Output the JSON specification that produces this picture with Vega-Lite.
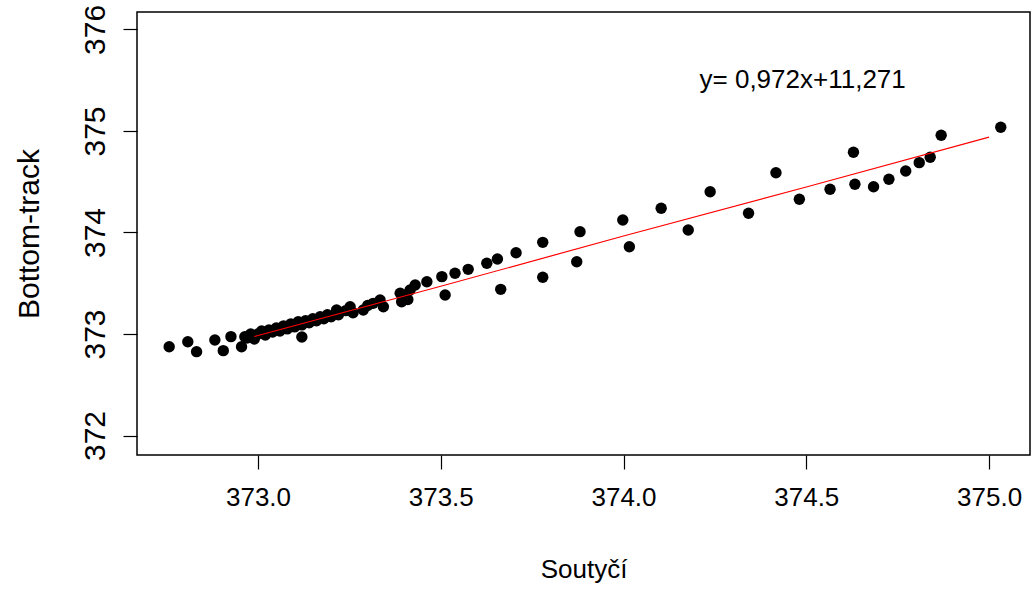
{
  "$schema": "https://vega.github.io/schema/vega-lite/v6.json",
  "width": 893,
  "height": 443,
  "autosize": {"type": "none"},
  "padding": {"left": 137, "top": 12, "right": 3, "bottom": 135},
  "background": "white",
  "config": {
    "view": {"stroke": "black", "strokeWidth": 1.5},
    "font": "Liberation Sans",
    "axis": {
      "domain": false,
      "grid": false,
      "tickColor": "black",
      "tickSize": 14,
      "tickWidth": 1.2,
      "labelColor": "black",
      "titleColor": "black",
      "labelFont": "Liberation Sans",
      "titleFont": "Liberation Sans",
      "titleFontWeight": "normal"
    }
  },
  "datasets": {
    "pts": [
      {"x": 372.757, "y": 372.875}, {"x": 372.808, "y": 372.924}, {"x": 372.832, "y": 372.826},
      {"x": 372.882, "y": 372.941}, {"x": 372.905, "y": 372.836}, {"x": 372.926, "y": 372.974},
      {"x": 372.955, "y": 372.875}, {"x": 372.964, "y": 372.973},
      {"x": 372.97, "y": 372.96}, {"x": 372.98, "y": 373.0}, {"x": 372.99, "y": 372.95},
      {"x": 373.0, "y": 373.0}, {"x": 373.01, "y": 373.03}, {"x": 373.02, "y": 372.99},
      {"x": 373.03, "y": 373.04}, {"x": 373.04, "y": 373.02}, {"x": 373.05, "y": 373.06},
      {"x": 373.06, "y": 373.03}, {"x": 373.07, "y": 373.08}, {"x": 373.08, "y": 373.05},
      {"x": 373.09, "y": 373.1}, {"x": 373.1, "y": 373.07}, {"x": 373.11, "y": 373.12},
      {"x": 373.12, "y": 373.09}, {"x": 373.12, "y": 372.97}, {"x": 373.13, "y": 373.13},
      {"x": 373.14, "y": 373.11}, {"x": 373.15, "y": 373.15}, {"x": 373.16, "y": 373.13},
      {"x": 373.17, "y": 373.17}, {"x": 373.18, "y": 373.15}, {"x": 373.19, "y": 373.19},
      {"x": 373.2, "y": 373.17}, {"x": 373.215, "y": 373.236}, {"x": 373.22, "y": 373.19},
      {"x": 373.24, "y": 373.23}, {"x": 373.252, "y": 373.269}, {"x": 373.26, "y": 373.21},
      {"x": 373.288, "y": 373.236}, {"x": 373.3, "y": 373.28}, {"x": 373.315, "y": 373.302},
      {"x": 373.334, "y": 373.335}, {"x": 373.343, "y": 373.269}, {"x": 373.389, "y": 373.401},
      {"x": 373.393, "y": 373.318}, {"x": 373.40, "y": 373.35}, {"x": 373.416, "y": 373.433},
      {"x": 373.41, "y": 373.34}, {"x": 373.43, "y": 373.483}, {"x": 373.462, "y": 373.515},
      {"x": 373.503, "y": 373.565}, {"x": 373.512, "y": 373.384}, {"x": 373.539, "y": 373.598},
      {"x": 373.575, "y": 373.637}, {"x": 373.626, "y": 373.697}, {"x": 373.655, "y": 373.739},
      {"x": 373.664, "y": 373.44}, {"x": 373.706, "y": 373.801}, {"x": 373.779, "y": 373.903},
      {"x": 373.779, "y": 373.559}, {"x": 373.872, "y": 373.712}, {"x": 373.881, "y": 374.008},
      {"x": 373.998, "y": 374.123}, {"x": 374.016, "y": 373.86}, {"x": 374.103, "y": 374.238},
      {"x": 374.177, "y": 374.025}, {"x": 374.237, "y": 374.402}, {"x": 374.342, "y": 374.189},
      {"x": 374.417, "y": 374.589}, {"x": 374.481, "y": 374.327}, {"x": 374.565, "y": 374.426},
      {"x": 374.629, "y": 374.79}, {"x": 374.633, "y": 374.475}, {"x": 374.684, "y": 374.451},
      {"x": 374.726, "y": 374.524}, {"x": 374.772, "y": 374.606}, {"x": 374.809, "y": 374.688},
      {"x": 374.839, "y": 374.741}, {"x": 374.869, "y": 374.958}, {"x": 375.032, "y": 375.036}
    ],
    "fit": [
      {"x": 372.99, "y": 372.975}, {"x": 373.5, "y": 373.47}, {"x": 374.0, "y": 373.965},
      {"x": 374.5, "y": 374.448}, {"x": 375.0, "y": 374.94}
    ],
    "label": [{"x": 374.49, "y": 375.5, "text": "y= 0,972x+11,271"}]
  },
  "layer": [
    {
      "data": {"name": "pts"},
      "mark": {"type": "point", "filled": true, "shape": "circle", "color": "black", "opacity": 1, "size": 130},
      "encoding": {
        "x": {
          "field": "x", "type": "quantitative", "title": "Soutyčí",
          "scale": {"domain": [372.669, 375.112], "nice": false, "zero": false},
          "axis": {"values": [373.0, 373.5, 374.0, 374.5, 375.0], "format": ".1f", "labelFontSize": 26, "titleFontSize": 26, "labelPadding": 15, "titlePadding": 46, "labelFlush": false}
        },
        "y": {
          "field": "y", "type": "quantitative", "title": "Bottom-track",
          "scale": {"domain": [371.808, 376.172], "nice": false, "zero": false},
          "axis": {"values": [372, 373, 374, 375, 376], "format": "d", "labelFontSize": 30, "titleFontSize": 30, "labelAngle": -90, "labelAlign": "center", "labelBaseline": "bottom", "labelPadding": 13, "titlePadding": 36, "labelFlush": false}
        }
      }
    },
    {
      "data": {"name": "fit"},
      "mark": {"type": "line", "color": "red", "strokeWidth": 1.2},
      "encoding": {
        "x": {"field": "x", "type": "quantitative"},
        "y": {"field": "y", "type": "quantitative"}
      }
    },
    {
      "data": {"name": "label"},
      "mark": {"type": "text", "fontSize": 26, "font": "Liberation Sans", "color": "black", "align": "center", "baseline": "middle"},
      "encoding": {
        "x": {"field": "x", "type": "quantitative"},
        "y": {"field": "y", "type": "quantitative"},
        "text": {"field": "text"}
      }
    }
  ]
}
